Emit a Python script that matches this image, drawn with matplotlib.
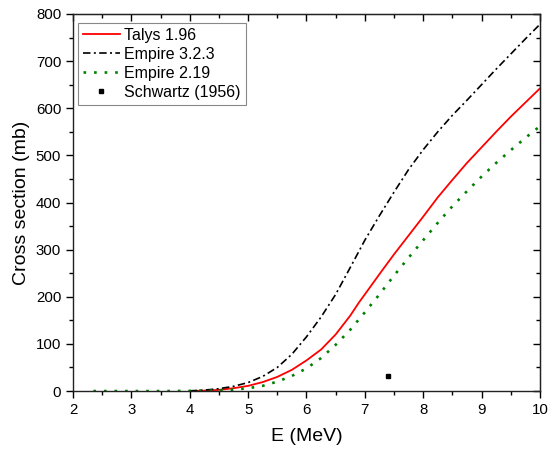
import matplotlib
matplotlib.use("Agg")
import matplotlib.pyplot as plt
from matplotlib.ticker import MultipleLocator

plt.rcParams['font.family'] = ['Liberation Sans', 'DejaVu Sans']

# Empire 3.2.3
e_emp323 = [4.0, 4.25, 4.5, 4.75, 5.0, 5.25, 5.5, 5.75, 6.0, 6.25, 6.5, 6.75, 7.0,
            7.25, 7.5, 7.75, 8.0, 8.25, 8.5, 8.75, 9.0, 9.25, 9.5, 9.75, 10.0]
xs_emp323 = [0.5, 2, 5, 10, 18, 31, 50, 78, 115, 157, 205, 262, 320,
             372, 422, 470, 512, 550, 585, 617, 650, 683, 715, 747, 778]

# Talys 1.96
e_talys = [4.0, 4.25, 4.5, 4.75, 5.0, 5.25, 5.5, 5.75, 6.0, 6.25, 6.5, 6.75, 6.9,
           7.0, 7.25, 7.5, 7.75, 8.0, 8.25, 8.5, 8.75, 9.0, 9.25, 9.5, 9.75, 10.0]
xs_talys = [0, 0.8, 2.5, 6, 11, 19, 30, 45, 65, 88, 120, 160, 188,
            205, 248, 290, 330, 370, 411, 448, 484, 517, 550, 582, 612, 642]

# Empire 2.19
e_emp219 = [2.35, 3.0, 3.5, 4.0, 4.5, 4.75, 5.0, 5.25, 5.5, 5.75, 6.0, 6.25, 6.5,
            6.75, 7.0, 7.25, 7.5, 7.75, 8.0, 8.25, 8.5, 8.75, 9.0, 9.25, 9.5, 9.75, 10.0]
xs_emp219 = [0, 0, 0, 0.3, 1.5, 3, 6, 11, 20, 32, 48, 70, 98,
             130, 167, 205, 245, 283, 320, 357, 392, 424, 455, 484, 511, 537, 562]

# Schwartz (1956)
e_exp = [7.4]
xs_exp = [32]

fig = plt.figure(figsize=(5.5, 4.5), dpi=100)
ax = fig.add_axes([0.1327, 0.131, 0.849, 0.838])

ax.plot(e_talys, xs_talys, color='#ff0000', lw=1.3, label='Talys 1.96')
ax.plot(e_emp323, xs_emp323, color='black', lw=1.2, linestyle=(0, (4.5, 2, 1.2, 2)),
        label='Empire 3.2.3')
ax.plot(e_emp219, xs_emp219, color='#008000', lw=1.9, linestyle=(0, (1, 3.0)),
        label='Empire 2.19')
ax.plot(e_exp, xs_exp, linestyle='none', marker='s', color='black', markersize=3.2,
        label='Schwartz (1956)')

ax.set_xlim(2, 10)
ax.set_ylim(0, 800)
ax.xaxis.set_major_locator(MultipleLocator(1))
ax.xaxis.set_minor_locator(MultipleLocator(0.5))
ax.yaxis.set_major_locator(MultipleLocator(100))
ax.yaxis.set_minor_locator(MultipleLocator(50))
ax.tick_params(which='both', direction='out', labelsize=10.8, width=1, colors='black')
ax.tick_params(which='major', length=5)
ax.tick_params(which='minor', length=3)
for s in ax.spines.values():
    s.set_linewidth(1)
    s.set_color('#222222')

secx = ax.secondary_xaxis('top')
secx.xaxis.set_major_locator(MultipleLocator(1))
secx.xaxis.set_minor_locator(MultipleLocator(0.5))
secx.tick_params(which='both', direction='in', labeltop=False, width=1)
secx.tick_params(which='major', length=5)
secx.tick_params(which='minor', length=3)
secy = ax.secondary_yaxis('right')
secy.yaxis.set_major_locator(MultipleLocator(100))
secy.yaxis.set_minor_locator(MultipleLocator(50))
secy.tick_params(which='both', direction='in', labelright=False, width=1)
secy.tick_params(which='major', length=5)
secy.tick_params(which='minor', length=3)

ax.set_xlabel('E (MeV)', fontsize=14, labelpad=8)
ax.set_ylabel('Cross section (mb)', fontsize=14, labelpad=4)

leg = ax.legend(loc='upper left', bbox_to_anchor=(0.011, 0.976), borderaxespad=0,
                fontsize=11.5, handlelength=2.3, handletextpad=0.3, labelspacing=0.25,
                borderpad=0.3, fancybox=False, framealpha=1, edgecolor='#888888')
leg.get_frame().set_linewidth(0.8)

fig.savefig('out.png', dpi=100)
